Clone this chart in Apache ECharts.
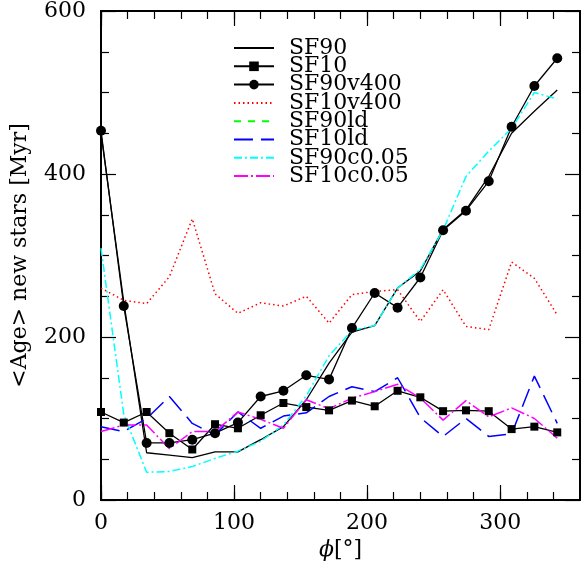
<!DOCTYPE html>
<html>
<head>
<meta charset="utf-8">
<script src="https://cdn.jsdelivr.net/npm/echarts@6/dist/echarts.min.js"></script>
<style>html,body{margin:0;padding:0;background:#fff}#c{width:581px;height:569px}</style>
</head>
<body>
<div id="c"></div>
<script>
// azimuthal angle phi [deg]
const phi = [0, 17.1, 34.3, 51.4, 68.6, 85.7, 102.9, 120, 137.1, 154.3, 171.4, 188.6, 205.7, 222.9, 240, 257.1, 274.3, 291.4, 308.6, 325.7, 342.9];
// <Age> of new stars [Myr]
const sf90     = [450, 243, 58, 55, 52, 59, 59, 74, 90, 123, 168, 206, 214, 260, 281, 332, 356, 397, 450, 477, 503];
const sf10     = [108, 95, 108, 82, 62, 93, 88, 104, 119, 114, 110, 122, 115, 134, 126, 109, 110, 109, 87, 90, 83];
const sf90v400 = [453, 238, 70, 70, 74, 82, 95, 127, 134, 153, 148, 211, 254, 236, 273, 331, 355, 391, 458, 508, 542];
const sf10v400 = [260, 245, 241, 274, 345, 253, 229, 242, 238, 250, 217, 252, 256, 258, 219, 258, 213, 209, 292, 272, 227];
const sf90ld   = [];
const sf10ld   = [90, 84, 100, 127, 94, 80, 108, 88, 103, 107, 127, 139, 133, 150, 101, 78, 100, 78, 81, 152, 94];
const sf90c005 = [309, 105, 34, 35, 41, 51, 60, 72, 92, 128, 177, 208, 214, 260, 283, 331, 397, 428, 456, 500, 492];
const sf10c005 = [84, 92, 92, 63, 84, 84, 108, 99, 88, 123, 112, 125, 133, 142, 125, 98, 122, 102, 113, 100, 76];
const xTicks = [0, 100, 200, 300];
const yTicks = [0, 200, 400, 600];

const FONT = 'DejaVu Serif';
const pair = a => a.map((v, i) => [phi[i], v]);

const chart = echarts.init(document.getElementById('c'), null, {renderer: 'canvas'});

const rect = {left: 101, right: 1, top: 11, bottom: 69, containLabel: false};
const axLine = {show: true, onZero: false, lineStyle: {color: '#000', width: 2}};
const tickStyle = {color: '#000', width: 1.2};
function xAx(grid, pos, interval, len, extra) {
  return Object.assign({
    type: 'value', min: 0, max: 360, interval, gridIndex: grid, position: pos,
    splitLine: {show: false}, axisLine: axLine,
    axisTick: {show: true, inside: true, length: len, lineStyle: tickStyle},
    axisLabel: {show: false}
  }, extra || {});
}
function yAx(grid, pos, show, extra) {
  return Object.assign({
    type: 'value', min: 0, max: 600, interval: 200, gridIndex: grid, position: pos, show,
    splitLine: {show: false}, axisLine: axLine,
    axisTick: {show: true, inside: true, length: 15, lineStyle: tickStyle},
    minorTick: {show: true, splitNumber: 4, length: 8, lineStyle: tickStyle},
    axisLabel: {show: false}
  }, extra || {});
}

function mkLine(name, data, color, type, width, extra) {
  return Object.assign({
    name, type: 'line', data: pair(data), xAxisIndex: 0, yAxisIndex: 0,
    showSymbol: false, symbol: 'none', animation: false,
    lineStyle: {color, type, width}, itemStyle: {color},
    z: 2
  }, extra || {});
}

const hideSym = {itemStyle: {opacity: 0}};

chart.setOption({
  animation: false,
  grid: [rect, rect, rect, rect],
  legend: {
    orient: 'vertical', left: 228, top: 32, itemWidth: 40, itemHeight: 12, itemGap: -3.7,
    textStyle: {fontFamily: FONT, fontSize: 22, color: '#000', padding: [0, 0, 0, 10]},
    data: [
      Object.assign({name: 'SF90'}, hideSym),
      {name: 'SF10'},
      {name: 'SF90v400'},
      Object.assign({name: 'SF10v400'}, hideSym),
      Object.assign({name: 'SF90ld'}, hideSym),
      Object.assign({name: 'SF10ld'}, hideSym),
      Object.assign({name: 'SF90c0.05'}, hideSym),
      Object.assign({name: 'SF10c0.05'}, hideSym)
    ]
  },
  xAxis: [
    xAx(0, 'bottom', 100, 15, {
      name: '{i|ϕ}[°]', nameLocation: 'middle', nameGap: 38,
      nameTextStyle: {fontFamily: FONT, fontSize: 22, color: '#000',
        rich: {i: {fontFamily: FONT, fontSize: 22, fontStyle: 'italic', color: '#000'}}},
      axisLabel: {show: true, fontFamily: FONT, fontSize: 22, color: '#000', margin: 12, showMaxLabel: false,
        formatter: v => xTicks.indexOf(v) >= 0 ? String(v) : ''}
    }),
    xAx(1, 'bottom', 20, 8),
    xAx(2, 'top', 100, 15),
    xAx(3, 'top', 20, 8)
  ],
  yAxis: [
    yAx(0, 'left', true, {
      name: '<Age> new stars [Myr]', nameLocation: 'middle', nameGap: 70,
      nameTextStyle: {fontFamily: FONT, fontSize: 22, color: '#000'},
      axisLabel: {show: true, fontFamily: FONT, fontSize: 22, color: '#000', margin: 15,
        formatter: v => yTicks.indexOf(v) >= 0 ? String(v) : ''}
    }),
    yAx(1, 'right', true),
    yAx(2, 'left', false),
    yAx(3, 'left', false)
  ],
  series: [
    mkLine('SF90', sf90, '#000000', 'solid', 1.3),
    mkLine('SF10', sf10, '#000000', 'solid', 1.3, {showSymbol: true, symbol: 'rect', symbolSize: 8}),
    mkLine('SF90v400', sf90v400, '#000000', 'solid', 1.3, {showSymbol: true, symbol: 'circle', symbolSize: 10}),
    mkLine('SF10v400', sf10v400, '#ff0000', [1.5, 3], 1.5),
    mkLine('SF90ld', sf90ld, '#00ff00', [7, 7], 1.5),
    mkLine('SF10ld', sf10ld, '#0000ff', [19, 8], 1.5),
    mkLine('SF90c0.05', sf90c005, '#00ffff', [8, 3, 2, 3], 1.5),
    mkLine('SF10c0.05', sf10c005, '#ff00ff', [14, 3, 2, 3], 1.5)
  ]
});
</script>
</body>
</html>
